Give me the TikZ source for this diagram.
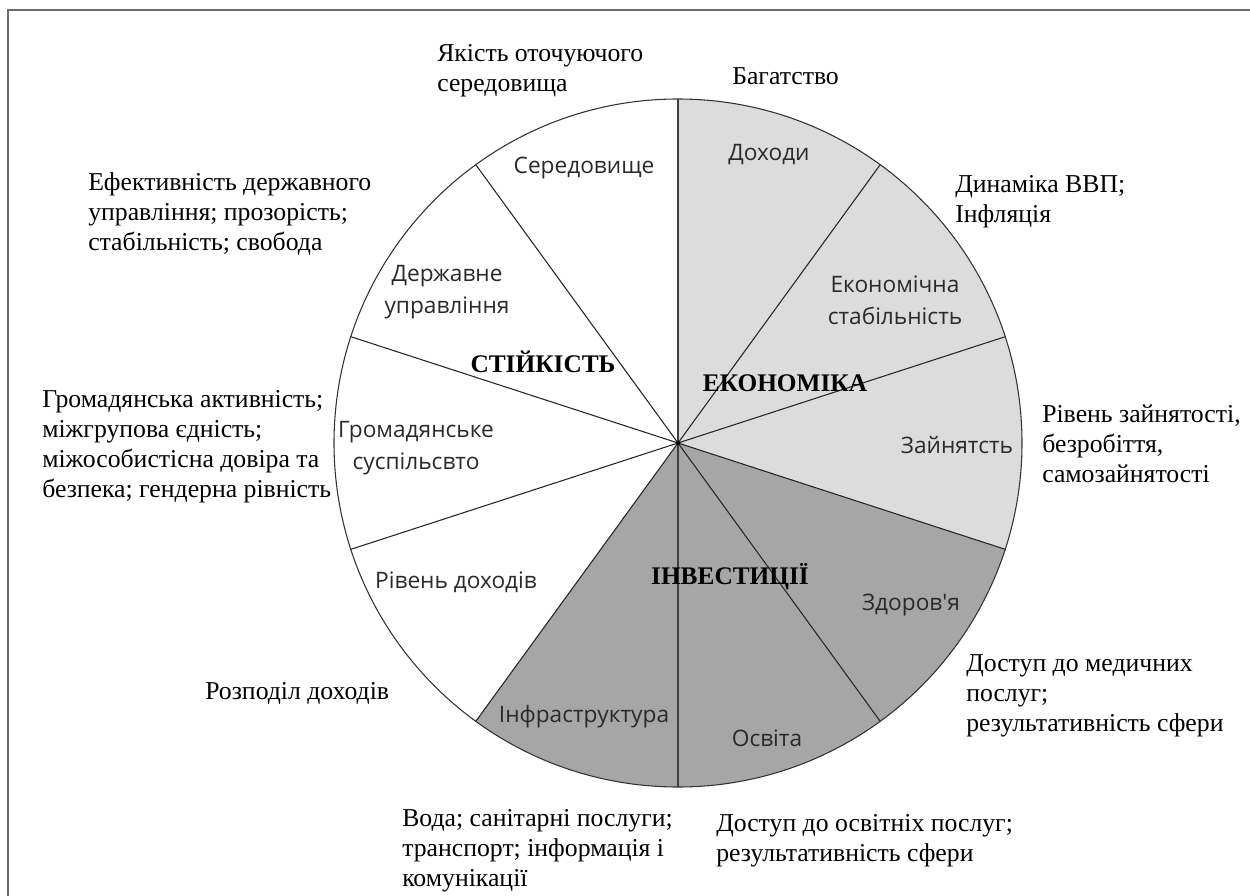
\documentclass[tikz,border=0pt]{standalone}
\usepackage{fontspec}
\setmainfont{Liberation Serif}
\newfontfamily\labfont{Open Sans}
\definecolor{lgray}{HTML}{DCDCDC}
\definecolor{dgray}{HTML}{A6A6A6}
\definecolor{labtext}{HTML}{2A2A2A}
\definecolor{framec}{HTML}{6A6A6A}
\tikzset{
  sector/.style={draw=black!85, line width=0.8pt},
  seclab/.style={font=\labfont\fontsize{17}{24}\selectfont, text=labtext, align=center, inner sep=0pt},
  biglab/.style={font=\fontsize{19}{22}\selectfont\bfseries, text=black, inner sep=0pt},
  outlab/.style={font=\fontsize{19.3}{22.5}\selectfont, text=black, align=left, anchor=north west, inner sep=0pt},
}
\begin{document}
\begin{tikzpicture}[x=0.75pt,y=-0.75pt]
\useasboundingbox (0,0) rectangle (1250,896);
\fill[white] (0,0) rectangle (1250,896);
% frame (only left and top edges visible)
\coordinate (fbl) at (8,896);
\coordinate (ftl) at (8,10);
\coordinate (ftr) at (1250,10);
\draw[framec, line width=1.5pt] (fbl) -- (ftl) -- (ftr);
% centre
\coordinate (c) at (678,443);
\def\R{258pt}
% sector fills
\fill[lgray] (c) -- ++(90:\R) arc[start angle=90, end angle=-18, radius=\R] -- cycle;
\fill[dgray] (c) -- ++(-18:\R) arc[start angle=-18, end angle=-126, radius=\R] -- cycle;
% boundary points
\foreach \a/\n in {90/p0,54/p1,18/p2,-18/p3,-54/p4,-90/p5,-126/p6,-162/p7,162/p8,126/p9}{
  \path (c) ++(\a:\R) coordinate (\n);
}
\foreach \n in {p1,p2,p3,p4,p6,p7,p8,p9}{
  \draw[sector] (c) -- (\n);
}
\draw[black!75, line width=1.6pt] (p0) -- (p5);
\draw[black!80, line width=0.8pt] (c) circle[radius=\R];
\fill[black] (c) circle[radius=1.6pt];
% sector labels
\node[seclab] (doh) at (769,155) {Доходи};
\node[seclab] (ekst) at (895,300) {Економічна\\стабільність};
\node[seclab] (zain) at (957,445) {Зайнятсть};
\node[seclab] (zdor) at (911,605) {Здоров'я};
\node[seclab] (osv) at (767,738) {Освіта};
\node[seclab] (infr) at (584,717) {Інфраструктура};
\node[seclab] (rivd) at (456,582) {Рівень доходів};
\node[seclab] (hrom) at (416,448) {Громадянське\\суспільсвто};
\node[seclab] (derz) at (447,292) {Державне\\управління};
\node[seclab] (sered) at (584,168) {Середовище};
% big labels
\node[biglab] (ekon) at (785,383) {ЕКОНОМІКА};
\node[biglab] (stik) at (543,362) {СТІЙКІСТЬ};
\node[biglab] (inv) at (730,577) {ІНВЕСТИЦІЇ};
% outer texts
\node[outlab] (o1) at (437,44) {Якість оточуючого\\середовища};
\node[outlab] (o2) at (732,67) {Багатство};
\node[outlab] (o3) at (955,175) {Динаміка ВВП;\\Інфляція};
\node[outlab] (o4) at (1042,405) {Рівень зайнятості,\\безробіття,\\самозайнятості};
\node[outlab] (o5) at (966,654) {Доступ до медичних\\послуг;\\результативність сфери};
\node[outlab] (o6) at (716,814) {Доступ до освітніх послуг;\\результативність сфери};
\node[outlab] (o7) at (402,809) {Вода; санітарні послуги;\\транспорт; інформація і\\комунікації};
\node[outlab] (o8) at (205,682) {Розподіл доходів};
\node[outlab] (o9) at (42,390) {Громадянська активність;\\міжгрупова єдність;\\міжособистісна довіра та\\безпека; гендерна рівність};
\node[outlab] (o10) at (88,172) {Ефективність державного\\управління; прозорість;\\стабільність; свобода};
\end{tikzpicture}
\end{document}
